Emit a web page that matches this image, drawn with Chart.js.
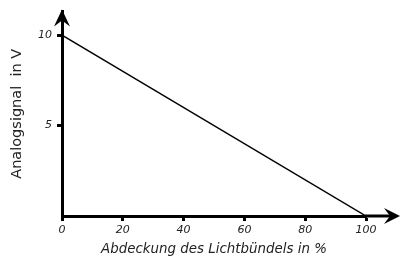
<!DOCTYPE html>
<html>
<head>
<meta charset="utf-8">
<script src="https://cdn.jsdelivr.net/npm/chart.js@4"></script>
<style>
  html, body { margin: 0; padding: 0; background: #fff; }
  #wrap { width: 402px; height: 256px; }
</style>
</head>
<body>
<div id="wrap"><canvas id="myChart"></canvas></div>
<script>
// data
const coverage = [0, 100];        // Abdeckung in %
const signal = [10, 0];           // Analogsignal in V
const xTicks = [0, 20, 40, 60, 80, 100];
const yTicks = [5, 10];

const tickFont = { family: 'DejaVu Sans', size: 11, style: 'italic' };

// x axis runs on past 100, both axes end in an arrow head
const arrowPlugin = {
    id: 'arrows',
    afterDraw(chart) {
        const ctx = chart.ctx;
        const a = chart.chartArea;
        const x0 = chart.scales.x.getPixelForValue(0);
        const y0 = chart.scales.y.getPixelForValue(0);
        const xEnd = chart.width - 2;
        ctx.save();
        ctx.strokeStyle = '#000';
        ctx.lineWidth = 3;
        ctx.beginPath();
        ctx.moveTo(a.right - 1, y0);
        ctx.lineTo(xEnd - 6, y0);
        ctx.stroke();
        ctx.fillStyle = '#000';
        // top arrow on y axis
        ctx.beginPath();
        ctx.moveTo(x0, a.top - 2);
        ctx.lineTo(x0 - 8, a.top + 15);
        ctx.lineTo(x0, a.top + 9);
        ctx.lineTo(x0 + 8, a.top + 15);
        ctx.closePath();
        ctx.fill();
        // right arrow on x axis
        ctx.beginPath();
        ctx.moveTo(xEnd, y0);
        ctx.lineTo(xEnd - 16, y0 - 8);
        ctx.lineTo(xEnd - 10, y0);
        ctx.lineTo(xEnd - 16, y0 + 8);
        ctx.closePath();
        ctx.fill();
        ctx.restore();
    }
};

const ctx = document.getElementById('myChart').getContext('2d');
const myChart = new Chart(ctx, {
    type: 'line',
    data: {
        datasets: [{
            data: coverage.map((c, i) => ({ x: c, y: signal[i] })),
            borderColor: '#000',
            borderWidth: 1.5,
            pointRadius: 0,
            fill: false
        }]
    },
    options: {
        responsive: true,
        maintainAspectRatio: false,
        animation: false,
        layout: { padding: { top: 10, right: 36, left: 0, bottom: 0 } },
        plugins: {
            legend: { display: false },
            tooltip: { enabled: false }
        },
        scales: {
            x: {
                type: 'linear',
                min: 0,
                max: 100,
                afterBuildTicks: (s) => { s.ticks = xTicks.map(v => ({ value: v })); },
                afterFit: (s) => { s.height = 40; },
                grid: {
                    drawOnChartArea: false,
                    drawTicks: true,
                    tickLength: 5,
                    tickWidth: 3,
                    tickColor: '#000'
                },
                border: { display: true, width: 3, color: '#000' },
                ticks: {
                    font: tickFont,
                    color: '#222',
                    padding: 3,
                    maxRotation: 0
                },
                title: {
                    display: true,
                    text: 'Abdeckung des Lichtbündels in %',
                    font: { family: 'DejaVu Sans', size: 13.4, style: 'italic' },
                    color: '#222',
                    padding: { top: 0, bottom: -2 }
                }
            },
            y: {
                min: 0,
                max: 11.3,
                afterBuildTicks: (s) => { s.ticks = yTicks.map(v => ({ value: v })); },
                afterFit: (s) => { s.width = 62; },
                grid: {
                    drawOnChartArea: false,
                    drawTicks: true,
                    tickLength: 5,
                    tickWidth: 3,
                    tickColor: '#000'
                },
                border: { display: true, width: 3, color: '#000' },
                ticks: {
                    font: tickFont,
                    color: '#222',
                    padding: 5
                },
                title: {
                    display: true,
                    text: 'Analogsignal  in V',
                    font: { family: 'DejaVu Sans', size: 14.5 },
                    color: '#222',
                    padding: { top: 9, bottom: 0 }
                }
            }
        }
    },
    plugins: [arrowPlugin]
});
</script>
</body>
</html>
